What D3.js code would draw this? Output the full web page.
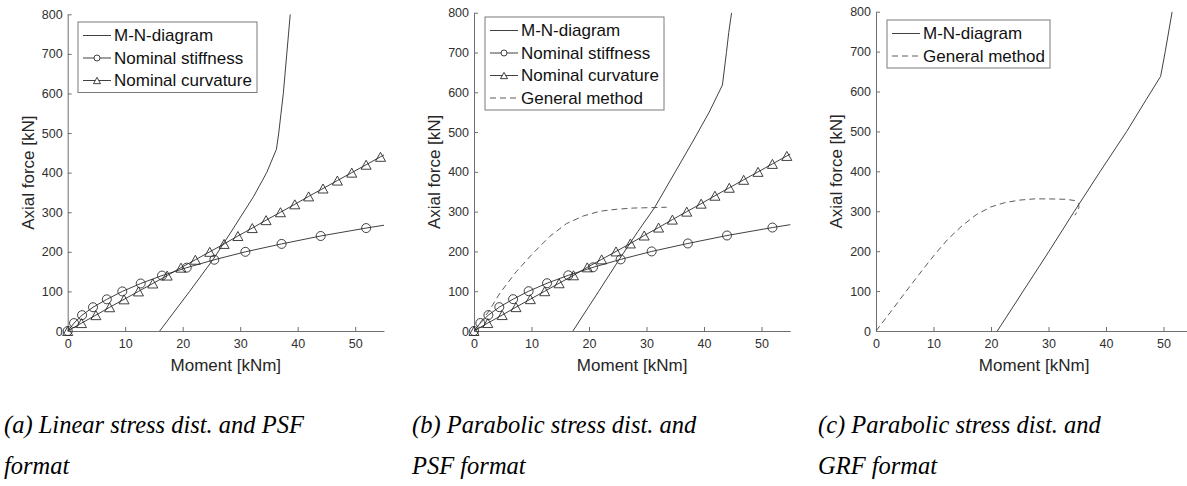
<!DOCTYPE html>
<html>
<head>
<meta charset="utf-8">
<script src="https://cdn.jsdelivr.net/npm/d3@7"></script>
<style>
  body { margin: 0; background: #fff; }
  svg text { font-family: "Liberation Sans", Arial, Helvetica, sans-serif; }
  svg text.caption { font-family: "Liberation Serif", "Times New Roman", serif; font-style: italic; }
</style>
</head>
<body>
<svg id="fig" width="1187" height="486"></svg>
<script>
// ---- tick labels ----
const xTicks = [0, 10, 20, 30, 40, 50];
const yTicks = [0, 100, 200, 300, 400, 500, 600, 700, 800];

// ---- Nominal stiffness (moment kNm / axial force kN) ----
const stiffM = [0, 1.1, 2.5, 4.4, 6.8, 9.5, 12.7, 16.4, 20.7, 25.5, 30.9, 37.2, 44.0, 51.9, 60.5];
const stiffN = [0, 20, 40, 60, 80, 100, 120, 140, 160, 180, 200, 220, 240, 260, 280];

// ---- Nominal curvature ----
const curvM = [0, 2.4, 4.9, 7.3, 9.8, 12.3, 14.8, 17.3, 19.7, 22.2, 24.7, 27.2, 29.6, 32.1,
               34.5, 37.0, 39.5, 41.9, 44.4, 46.9, 49.4, 51.9, 54.4, 56.9];
const curvN = [0, 20, 40, 60, 80, 100, 120, 140, 160, 180, 200, 220, 240, 260,
               280, 300, 320, 340, 360, 380, 400, 420, 440, 460];

// ---- M-N interaction diagrams ----
const mnLinM = [16.0, 21.2, 25.3, 28.4, 32.3, 34.6, 36.3, 36.7, 37.1, 37.5, 37.8, 38.1, 38.4, 38.7];
const mnLinN = [0, 100, 181, 250, 339, 400, 459, 500, 550, 600, 650, 700, 750, 800];

const mnParM = [17.2, 21.7, 25.4, 28.5, 31.4, 35.0, 38.2, 40.9, 43.2, 43.9, 44.3, 44.8];
const mnParN = [0, 100, 183, 250, 310, 400, 480, 550, 618, 700, 750, 800];

const mnGrfM = [21.1, 25.6, 30.1, 34.5, 39.0, 43.6, 47.0, 49.5, 50.3, 51.5];
const mnGrfN = [0, 100, 200, 300, 400, 500, 580, 638, 700, 800];

// ---- General method ----
const genPsfM = [0, 2.5, 4.5, 7.4, 10.3, 13.2, 16.1, 19.0, 21.9, 24.8, 27.7, 30.6, 33.5];
const genPsfN = [0, 48, 95, 150, 196, 238, 270, 289, 301, 306, 309, 310, 311];

const genGrfM = [0, 2.5, 5, 7.5, 10, 12.5, 15, 17.5, 20, 22.5, 25, 27.5, 30, 33, 34.5, 35.2, 35.3, 35.0, 34.6];
const genGrfN = [0, 47, 95, 142, 188, 230, 264, 292, 311, 322, 328, 331, 331, 330, 327, 320, 310, 300, 290];

// ---- captions ----
const captions = [
  ["(a) Linear stress dist. and PSF", "format"],
  ["(b) Parabolic stress dist. and", "PSF format"],
  ["(c) Parabolic stress dist. and", "GRF format"]
];

const zip = (ms, ns) => ms.map((m, i) => ({ m, n: ns[i] }));

const svg = d3.select("#fig");
svg.append("rect").attr("width", 1187).attr("height", 486).attr("fill", "#fff");

const LINE = "#2b2b2b";
const AXIS = "#6f6f6f";
const TEXT = "#303030";

function trianglePath(cx, cy, s) {
  const h = s * 0.9;
  return `M${cx},${cy - h / 2}L${cx + s / 2},${cy + h / 2}L${cx - s / 2},${cy + h / 2}Z`;
}

function drawPanel(idx, cfg) {
  const g = svg.append("g");
  const x = d3.scaleLinear().domain([0, 55]).range([cfg.left, cfg.left + 55 * 5.75]);
  const y = d3.scaleLinear().domain([0, 800]).range([331, cfg.top]);

  const clipId = "clip" + idx;
  svg.append("clipPath").attr("id", clipId)
    .append("rect")
    .attr("x", x(0)).attr("y", y(800))
    .attr("width", x(55) - x(0)).attr("height", y(0) - y(800));

  // axes
  const xAxis = g.append("g").attr("transform", `translate(0,${y(0)})`)
    .call(d3.axisBottom(x).tickValues(xTicks).tickFormat(d3.format("d"))
      .tickSizeInner(-4).tickSizeOuter(0).tickPadding(8));
  const yAxis = g.append("g").attr("transform", `translate(${x(0)},0)`)
    .call(d3.axisLeft(y).tickValues(yTicks).tickFormat(d3.format("d"))
      .tickSizeInner(-4).tickSizeOuter(0).tickPadding(5));
  [xAxis, yAxis].forEach(a => {
    a.select(".domain").attr("stroke", AXIS).attr("stroke-width", 1);
    a.selectAll(".tick line").attr("stroke", AXIS);
    a.selectAll(".tick text").attr("fill", TEXT).style("font-size", "12.5px");
  });

  // axis titles
  g.append("text")
    .attr("x", (x(0) + x(55)) / 2).attr("y", 371)
    .attr("text-anchor", "middle").attr("fill", "#262626")
    .style("font-size", "17px").text("Moment [kNm]");
  g.append("text")
    .attr("transform", `translate(${cfg.left - 34},${(y(0) + y(800)) / 2}) rotate(-90)`)
    .attr("text-anchor", "middle").attr("fill", "#262626")
    .style("font-size", "17px").text("Axial force [kN]");

  const line = d3.line().x(d => x(d.m)).y(d => y(d.n));
  const plot = g.append("g");
  const clipped = plot.append("g").attr("clip-path", `url(#${clipId})`);
  const inside = d => d.m >= 0 && d.m <= 55 && d.n >= 0 && d.n <= 800;

  cfg.series.forEach(s => {
    const data = zip(s.m, s.n);
    clipped.append("path").datum(data)
      .attr("d", line).attr("fill", "none")
      .attr("stroke", s.dash ? "#4a4a4a" : LINE)
      .attr("stroke-width", 0.9)
      .attr("stroke-dasharray", s.dash ? "6,4" : null);
    if (s.marker === "circle") {
      plot.selectAll(null).data(data.filter(inside)).enter().append("circle")
        .attr("cx", d => x(d.m)).attr("cy", d => y(d.n)).attr("r", 4.5)
        .attr("fill", "none").attr("stroke", LINE).attr("stroke-width", 0.9);
    } else if (s.marker === "triangle") {
      plot.selectAll(null).data(data.filter(inside)).enter().append("path")
        .attr("d", d => trianglePath(x(d.m), y(d.n), 10))
        .attr("fill", "none").attr("stroke", LINE).attr("stroke-width", 0.9);
    }
  });

  // legend
  const lg = g.append("g");
  const rowH = 22.5;
  const lx = cfg.legend.x, ly = cfg.legend.y;
  lg.append("rect")
    .attr("x", lx).attr("y", ly)
    .attr("width", cfg.legend.w).attr("height", cfg.series.length * rowH + 3)
    .attr("fill", "#fff").attr("stroke", "#7a7a7a").attr("stroke-width", 1);
  cfg.series.forEach((s, i) => {
    const cy = ly + 13.5 + i * rowH;
    const x1 = lx + 5, x2 = lx + 33;
    lg.append("line").attr("x1", x1).attr("x2", x2).attr("y1", cy).attr("y2", cy)
      .attr("stroke", s.dash ? "#4a4a4a" : LINE).attr("stroke-width", 0.9)
      .attr("stroke-dasharray", s.dash ? "6,4" : null);
    if (s.marker === "circle") {
      lg.append("circle").attr("cx", (x1 + x2) / 2).attr("cy", cy).attr("r", 3)
        .attr("fill", "#fff").attr("stroke", LINE).attr("stroke-width", 0.9);
    } else if (s.marker === "triangle") {
      lg.append("path").attr("d", trianglePath((x1 + x2) / 2, cy, 7))
        .attr("fill", "#fff").attr("stroke", LINE).attr("stroke-width", 0.9);
    }
    lg.append("text").attr("x", lx + 36).attr("y", cy).attr("dy", "0.35em")
      .attr("fill", "#111").style("font-size", "17px").text(s.name);
  });

  // caption
  const cap = captions[idx];
  cap.forEach((t, i) => {
    svg.append("text").attr("class", "caption")
      .attr("font-family", "'Liberation Serif', 'Times New Roman', serif")
      .attr("font-style", "italic")
      .attr("x", cfg.capX).attr("y", 433 + i * 40.5)
      .attr("fill", "#000").style("font-size", "24.5px").text(t);
  });
}

const sMN = (m, n) => ({ name: "M-N-diagram", m, n });
const sStiff = { name: "Nominal stiffness", m: stiffM, n: stiffN, marker: "circle" };
const sCurv = { name: "Nominal curvature", m: curvM, n: curvN, marker: "triangle" };
const sGen = (m, n) => ({ name: "General method", m, n, dash: true });

drawPanel(0, {
  left: 67.7, top: 14.3, capX: 4,
  legend: { x: 78, y: 22, w: 179 },
  series: [sMN(mnLinM, mnLinN), sStiff, sCurv]
});
drawPanel(1, {
  left: 474, top: 12.7, capX: 412,
  legend: { x: 485, y: 17, w: 179 },
  series: [sMN(mnParM, mnParN), sStiff, sCurv, sGen(genPsfM, genPsfN)]
});
drawPanel(2, {
  left: 876, top: 11.7, capX: 818,
  legend: { x: 887, y: 20, w: 163 },
  series: [sMN(mnGrfM, mnGrfN), sGen(genGrfM, genGrfN)]
});
</script>
</body>
</html>
